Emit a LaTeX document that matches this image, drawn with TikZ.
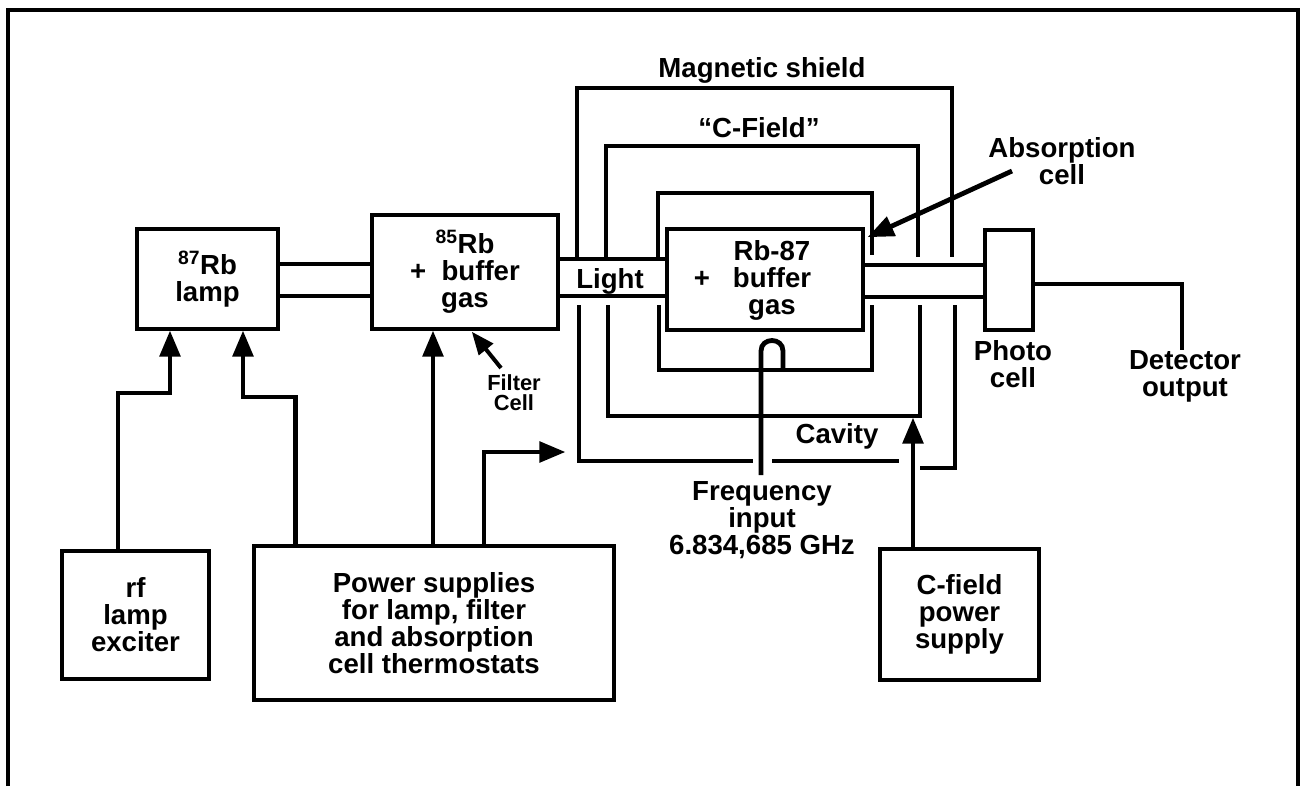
\documentclass[tikz,border=0pt]{standalone}
\usepackage{fontspec}
\setmainfont{Liberation Sans}
\usetikzlibrary{arrows}
\tikzset{
  wire/.style={line width=3.6pt,line join=miter},
  blk/.style={draw,line width=3.6pt,outer sep=0pt,inner sep=0pt,align=center,font=\lbl},
  lbl/.style={inner sep=0pt,align=center,font=\lbl},
  smalllbl/.style={inner sep=0pt,align=center,font=\fontsize{16.4}{15}\bfseries},
}
\newcommand{\lbl}{\fontsize{20.7}{20.2}\bfseries}
\begin{document}
\begin{tikzpicture} [>=triangle 45,x=.75pt,y=-.75pt]
\useasboundingbox (0,0) rectangle (1304,786);
% frame
\coordinate (frameL) at (8,786);
\coordinate (frameR) at (1298,786);
\draw[wire] (frameL) |- (frameR |- 0,10) -- (frameR);
% blocks
\node[blk,minimum width=105.75pt,minimum height=75pt] (lamp) at (207.5,279) {\textsuperscript{87}Rb\\lamp};
\node[blk,minimum width=139.5pt,minimum height=85.5pt] (filter) at (465,272) {\textsuperscript{85}Rb\\+\ \ buffer\hspace{6pt}\\gas\hspace{6pt}};
\node[blk,minimum width=147pt,minimum height=75.75pt] (cell) at (765,279.5) {};
\node[blk,minimum width=36pt,minimum height=75pt] (photo) at (1009,280) {};
\node[blk,minimum width=110.25pt,minimum height=96pt] (rf) at (135.5,615) {rf\\lamp\\exciter};
\node[blk,minimum width=270pt,minimum height=115.5pt] (power) at (434,623) {Power supplies\\for lamp, filter\\and absorption\\cell thermostats};
\node[blk,minimum width=119.25pt,minimum height=98.25pt] (cpower) at (959.5,614.5) {C-field\\power\\supply};
% labels
\node[lbl] (celltext) at (772,280) {Rb-87\\\llap{+\ \ \ }buffer\\gas};
\node[lbl] (shieldtext) at (762,70) {Magnetic shield};
\node[lbl] (fieldtext) at (759,128) {``C-Field''};
\node[lbl] (abstext) at (1062,161) {Absorption\\cell};
\node[lbl] (lighttext) at (610,281) {Light};
\node[lbl] (cavitytext) at (837,436) {Cavity};
\node[lbl] (phototext) at (1013,364) {Photo\\cell};
\node[lbl] (dettext) at (1185,376) {Detector\\output};
\node[lbl] (freqtext) at (762,520) {Frequency\\input\\6.834,685 GHz};
\node[smalllbl] (filtertext) at (514,393) {Filter\\Cell};
% light path
\draw[wire] (lamp.east |- 0,264) -- (filter.west |- 0,264);
\draw[wire] (lamp.east |- 0,296) -- (filter.west |- 0,296);
\draw[wire] (filter.east |- 0,259) -- (cell.west |- 0,259);
\draw[wire] (filter.east |- 0,296) -- (cell.west |- 0,296);
\draw[wire] (cell.east |- 0,265) -- (photo.west |- 0,265);
\draw[wire] (cell.east |- 0,297) -- (photo.west |- 0,297);
% shield, field coil and cavity
\draw[wire] (577,259) |- (952,88) -- (952,257);
\draw[wire] (955,305) |- (920,468);
\draw[wire] (579,305) |- (753,461);
\draw[wire] (772,461) -- (899,461);
\draw[wire] (606,259) |- (918,146) -- (918,257);
\draw[wire] (608,305) |- (920,416) -- (920,305);
\draw[wire] (658,259) |- (872,193) -- (872,255);
\draw[wire] (659,305) |- (872,370) -- (872,305);
% frequency input
\draw[wire] (761,475) -- (761,351) .. controls (761,337) and (783,337) .. (783,351) -- (783,370);
% supplies
\draw[wire,->] (118,551) |- (170,393) -- (170,331);
\draw[wire,->] (295.5,547) |- (243,397) -- (243,331);
\draw[wire,->] (433,547) -- (433,331);
\draw[wire,->] (484,547) |- (565,452);
\draw[wire,->] (913,549) -- (913,418);
% pointers
\draw[wire,->] (1012,171) -- (868,237);
\draw[wire,->,line width=3pt] (501,368) -- (472,332);
% detector
\draw[wire] (photo.east |- 0,284) -| (1182,350);
\end{tikzpicture}
\end{document}
